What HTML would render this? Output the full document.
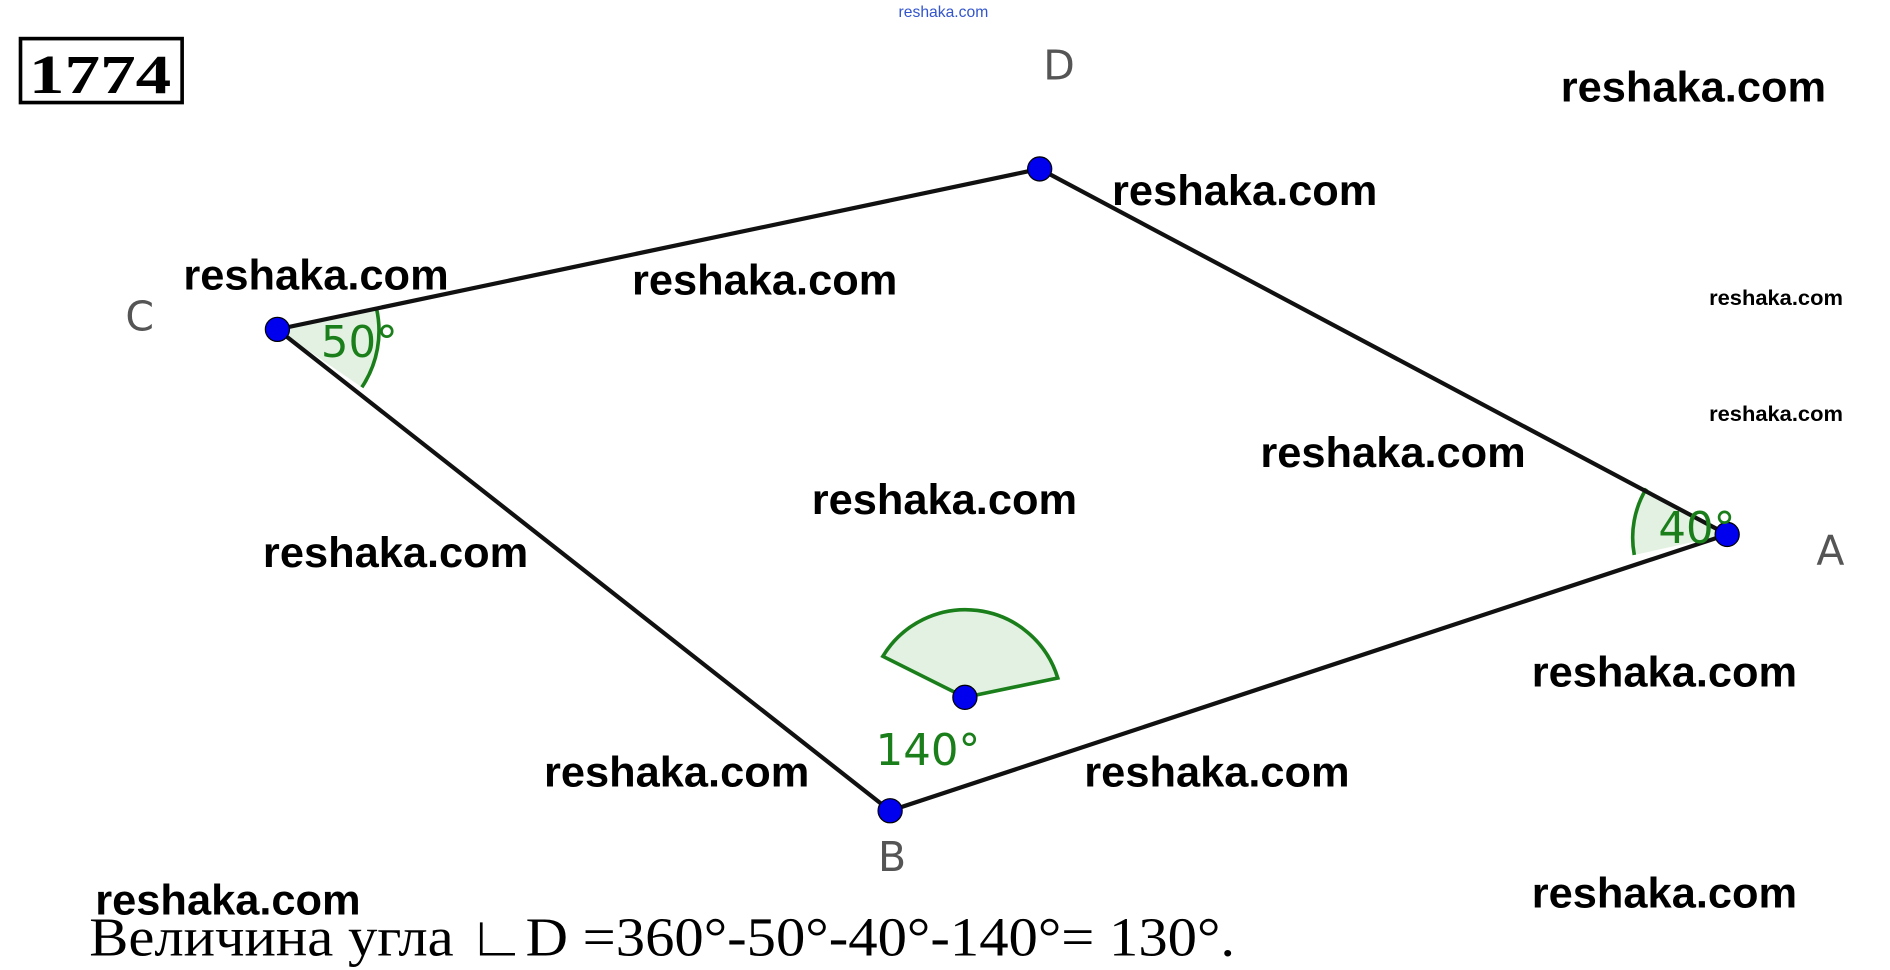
<!DOCTYPE html>
<html><head><meta charset="utf-8"><style>
html,body{margin:0;padding:0;background:#fff;width:1890px;height:970px;overflow:hidden}
svg{display:block}
.w{font-family:"Liberation Sans",sans-serif;font-size:35px;font-weight:bold;fill:#000}
.s{font-family:"Liberation Sans",sans-serif;font-size:18px;font-weight:bold;fill:#000}
.l{font-family:"DejaVu Sans","Liberation Sans",sans-serif;font-size:34px;fill:#555}
.g{font-family:"DejaVu Sans","Liberation Sans",sans-serif;font-size:36px;fill:#1a7f1a}
</style></head><body>
<svg width="1890" height="970" viewBox="0 0 1567 804" preserveAspectRatio="none" xmlns="http://www.w3.org/2000/svg">
<rect width="1567" height="804" fill="#fff"/>
<text x="745" y="14" font-family="Liberation Sans,sans-serif" font-size="13" fill="#3355cc">reshaka.com</text>
<rect x="17" y="32" width="134" height="53" fill="none" stroke="#000" stroke-width="3"/>
<text x="24" y="77" font-family="Liberation Serif,serif" font-weight="bold" font-size="46" textLength="118" lengthAdjust="spacingAndGlyphs">1774</text>
<path d="M230,273 L300,321 A84,84 0 0 0 312,255 Z" fill="#e3f1e3" stroke="none"/>
<path d="M300,321 A84,84 0 0 0 312,255" fill="none" stroke="#1a7f1a" stroke-width="3"/>
<path d="M1432,443 L1355,460 A78,78 0 0 1 1365,405 Z" fill="#e3f1e3"/>
<path d="M1355,460 A78,78 0 0 1 1365,405" fill="none" stroke="#1a7f1a" stroke-width="3"/>
<path d="M800,578 L877,562 A80,80 0 0 0 732,544 Z" fill="#e3f1e3" stroke="#1a7f1a" stroke-width="3"/>
<polygon points="862,140 1432,443 738,672 230,273" fill="none" stroke="#111" stroke-width="3.5"/>
<circle cx="862" cy="140" r="10" fill="#0000ee" stroke="#000" stroke-width="1"/>
<circle cx="230" cy="273" r="10" fill="#0000ee" stroke="#000" stroke-width="1"/>
<circle cx="1432" cy="443" r="10" fill="#0000ee" stroke="#000" stroke-width="1"/>
<circle cx="738" cy="672" r="10" fill="#0000ee" stroke="#000" stroke-width="1"/>
<circle cx="800" cy="578" r="10" fill="#0000ee" stroke="#000" stroke-width="1"/>
<text x="865" y="66" class="l">D</text>
<text x="104" y="274" class="l">C</text>
<text x="1506" y="468" class="l">A</text>
<text x="728" y="722" class="l">B</text>
<text x="266" y="296" class="g">50°</text>
<text x="1375" y="450" class="g">40°</text>
<text x="726" y="634" class="g">140°</text>
<text x="1294" y="84" class="w" textLength="220" lengthAdjust="spacingAndGlyphs">reshaka.com</text>
<text x="922" y="170" class="w" textLength="220" lengthAdjust="spacingAndGlyphs">reshaka.com</text>
<text x="152" y="240" class="w" textLength="220" lengthAdjust="spacingAndGlyphs">reshaka.com</text>
<text x="524" y="244" class="w" textLength="220" lengthAdjust="spacingAndGlyphs">reshaka.com</text>
<text x="1417" y="253" class="s" textLength="111" lengthAdjust="spacingAndGlyphs">reshaka.com</text>
<text x="1417" y="349" class="s" textLength="111" lengthAdjust="spacingAndGlyphs">reshaka.com</text>
<text x="1045" y="387" class="w" textLength="220" lengthAdjust="spacingAndGlyphs">reshaka.com</text>
<text x="673" y="426" class="w" textLength="220" lengthAdjust="spacingAndGlyphs">reshaka.com</text>
<text x="218" y="470" class="w" textLength="220" lengthAdjust="spacingAndGlyphs">reshaka.com</text>
<text x="1270" y="569" class="w" textLength="220" lengthAdjust="spacingAndGlyphs">reshaka.com</text>
<text x="451" y="652" class="w" textLength="220" lengthAdjust="spacingAndGlyphs">reshaka.com</text>
<text x="899" y="652" class="w" textLength="220" lengthAdjust="spacingAndGlyphs">reshaka.com</text>
<text x="1270" y="752" class="w" textLength="220" lengthAdjust="spacingAndGlyphs">reshaka.com</text>
<text x="79" y="758" class="w" textLength="220" lengthAdjust="spacingAndGlyphs">reshaka.com</text>
<text x="74" y="792" font-family="Liberation Serif,serif" font-size="46" fill="#000" textLength="950" lengthAdjust="spacingAndGlyphs">Величина угла ∟D =360°-50°-40°-140°= 130°.</text>
</svg>
</body></html>
